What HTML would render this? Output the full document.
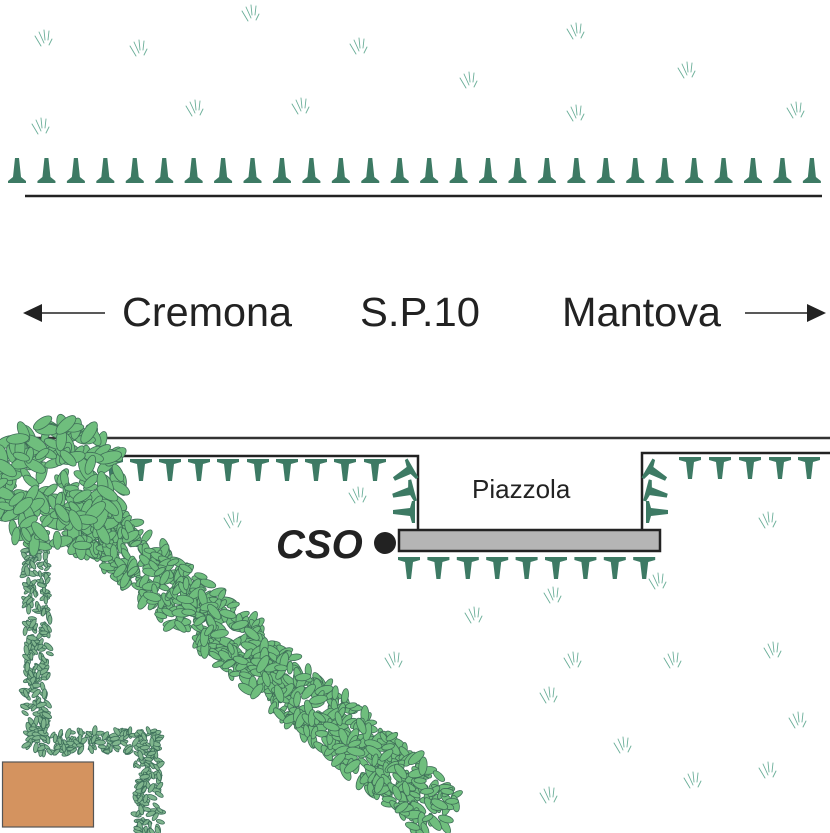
<!DOCTYPE html>
<html><head><meta charset="utf-8"><style>
html,body{margin:0;padding:0;background:#fff;}
svg{display:block;}
</style></head><body>
<svg id="s" width="830" height="833" viewBox="0 0 830 833" xmlns="http://www.w3.org/2000/svg">
<defs>
<g id="cone"><path d="M-2,-25 L2,-25 L4,-6 L9,-2 L9,0 L-9,0 L-9,-2 L-4,-6 Z" fill="#3d7a64"/></g>
<g id="tee"><path d="M-11,0 L11,0 L11,3 L4,5 L2,22 L-2,22 L-4,5 L-11,3 Z" fill="#3d7a64"/></g>
<g id="grass" stroke="#6aae98" stroke-width="0.9" fill="none" stroke-linecap="round">
<path d="M-8,-4 L-2,6"/><path d="M-4,-8 L1,3"/><path d="M1,-10 L2,0"/><path d="M6,-9 L5,0"/><path d="M9,-1 L6,5"/>
</g>
</defs>
<g id="grassg"></g>
<g id="topcones"></g>
<line x1="25" y1="196" x2="822" y2="196" stroke="#222" stroke-width="2.5"/>
<line x1="38" y1="313" x2="105" y2="313" stroke="#222" stroke-width="1.5"/>
<path d="M23,313 L42,304 L42,322 Z" fill="#222"/>
<line x1="745" y1="313" x2="812" y2="313" stroke="#222" stroke-width="1.5"/>
<path d="M826,313 L807,304 L807,322 Z" fill="#222"/>
<g font-family="'Liberation Sans Narrow','Liberation Sans',sans-serif" font-size="41" fill="#222">
<text x="122" y="326" textLength="170" lengthAdjust="spacingAndGlyphs">Cremona</text>
<text x="360" y="326" textLength="120" lengthAdjust="spacingAndGlyphs">S.P.10</text>
<text x="562" y="326" textLength="159" lengthAdjust="spacingAndGlyphs">Mantova</text>
</g>
<line x1="5" y1="438" x2="830" y2="438" stroke="#333" stroke-width="2.5"/>
<polyline points="0,456 418,456 418,531" fill="none" stroke="#222" stroke-width="2.5"/>
<polyline points="642,531 642,453 830,453" fill="none" stroke="#222" stroke-width="2.5"/>
<rect x="399" y="530" width="261" height="21" fill="#b5b5b5" stroke="#222" stroke-width="2.5"/>
<circle cx="385" cy="543" r="11" fill="#222"/>
<text x="276" y="558" font-family="'Liberation Sans',sans-serif" font-weight="bold" font-style="italic" font-size="40" fill="#222">CSO</text>
<text x="472" y="498" font-family="'Liberation Sans',sans-serif" font-size="26" fill="#222">Piazzola</text>
<g id="tees"></g>
<g id="veg"></g>
<rect x="2.5" y="762" width="91" height="65" fill="#d4935f" stroke="#555" stroke-width="1.2"/>
</svg>
<script>
var NS="http://www.w3.org/2000/svg";
function el(p,tag,a){var e=document.createElementNS(NS,tag);for(var k in a)e.setAttribute(k,a[k]);p.appendChild(e);return e;}
var tc=document.getElementById('topcones');
for(var i=0;i<28;i++){var x=17+i*29.44;el(tc,'use',{href:'#cone',transform:'translate('+x+',183)'});}
var t=document.getElementById('tees');
[112,141,170,199,228,258,287,316,345,375].forEach(function(x){el(t,'use',{href:'#tee',transform:'translate('+x+',459)'});});
[690,720,750,780,809].forEach(function(x){el(t,'use',{href:'#tee',transform:'translate('+x+',457)'});});
for(var i=0;i<9;i++){el(t,'use',{href:'#tee',transform:'translate('+(409+i*29.4)+',557)'});}
el(t,'use',{href:'#tee',transform:'translate(413,468) rotate(60)'});
el(t,'use',{href:'#tee',transform:'translate(414,490) rotate(75)'});
el(t,'use',{href:'#tee',transform:'translate(415,512) rotate(90)'});
el(t,'use',{href:'#tee',transform:'translate(647,468) rotate(-60)'});
el(t,'use',{href:'#tee',transform:'translate(646,490) rotate(-75)'});
el(t,'use',{href:'#tee',transform:'translate(646,512) rotate(-90)'});
var g=document.getElementById('grassg');
[[250,15],[43,40],[138,50],[358,48],[575,33],[468,82],[686,72],[40,128],[194,110],[300,108],[575,115],[795,112],[232,522],[357,497],[767,522],[552,597],[657,583],[473,617],[393,662],[572,662],[672,662],[772,652],[548,697],[622,747],[797,722],[692,782],[548,797],[767,772]].forEach(function(p){el(g,'use',{href:'#grass',transform:'translate('+p[0]+','+p[1]+')'});});
var v=document.getElementById('veg');
var seed=7;function r(){seed=(seed*9301+49297)%233280;return seed/233280;}
function leaf(x,y,s,fill,st){var a=r()*360;el(v,'ellipse',{cx:x,cy:y,rx:s,ry:s*0.45,fill:fill,stroke:st,'stroke-width':0.8,transform:'rotate('+a+' '+x+' '+y+')'});}
function cluster(cx,cy,R,n,s,fill,st){for(var i=0;i<n;i++){var a=r()*6.283,d=R*(0.3+0.7*Math.sqrt(r()));leaf(cx+Math.cos(a)*d,cy+Math.sin(a)*d,s*(0.7+0.5*r()),fill,st);}}
function line(x1,y1,x2,y2,step,R,n,s,fill,st){var L=Math.hypot(x2-x1,y2-y1),k=Math.max(1,Math.round(L/step));for(var i=0;i<=k;i++){cluster(x1+(x2-x1)*i/k,y1+(y2-y1)*i/k,R,n,s,fill,st);}}
var sf="#7fb58d",ss="#3d6e5a";
line(37,535,37,740,12,13,14,4.5,sf,ss);
line(37,742,148,742,12,13,14,4.5,sf,ss);
line(148,742,148,832,12,13,14,4.5,sf,ss);
line(70,505,430,805,16,30,28,8,"#6fbe7d","#3f6e58");
cluster(58,486,66,190,11,"#6fbe7d","#3f6e58");
</script>
</body></html>
